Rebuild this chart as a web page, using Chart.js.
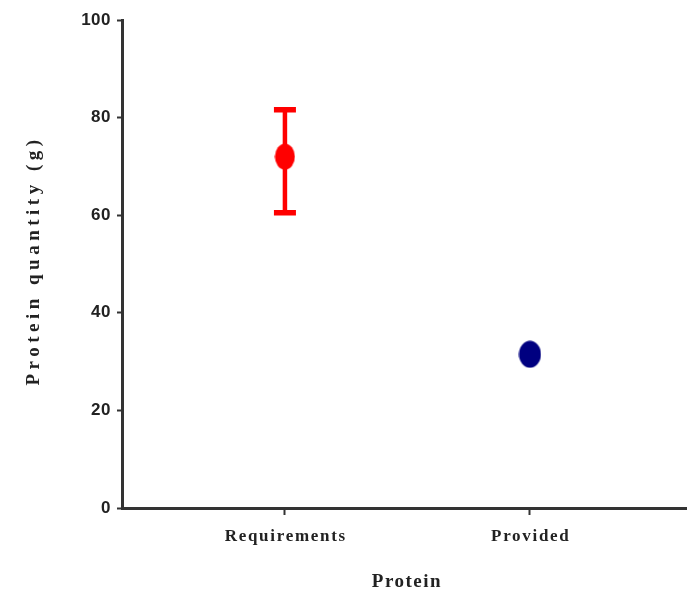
<!DOCTYPE html>
<html><head><meta charset="utf-8">
<script src="https://cdn.jsdelivr.net/npm/chart.js@4"></script>
<style>html,body{margin:0;padding:0;background:#fff}</style>
</head><body>
<canvas id="c" width="687" height="596"></canvas>
<script>
const categories = ['Requirements', 'Provided'];
const categoryPositions = [1, 2];
const means = [72, 31.5];
const errUpper = [81.6, null];
const errLower = [60.5, null];
const pointColors = ['#ff0000', '#000080'];
const yTicks = [0, 20, 40, 60, 80, 100];
const xTitle = 'Protein';
const yTitle = 'Protein quantity (g)';

function ellipseCanvas(color, w, h) {
  const c = document.createElement('canvas');
  c.width = w; c.height = h;
  const g = c.getContext('2d');
  g.fillStyle = color;
  g.beginPath();
  g.ellipse(w / 2, h / 2, w / 2 - 0.5, h / 2 - 0.5, 0, 0, Math.PI * 2);
  g.fill();
  return c;
}

const errorBars = {
  id: 'errorBars',
  beforeDatasetsDraw(chart) {
    const { ctx, scales: { x, y } } = chart;
    ctx.save();
    categoryPositions.forEach((pos, i) => {
      if (errUpper[i] == null) return;
      const px = x.getPixelForValue(pos);
      const yt = y.getPixelForValue(errUpper[i]);
      const yb = y.getPixelForValue(errLower[i]);
      ctx.strokeStyle = pointColors[i];
      ctx.lineWidth = 4.5;
      ctx.beginPath();
      ctx.moveTo(px, yt); ctx.lineTo(px, yb);
      ctx.stroke();
      ctx.lineWidth = 5.5;
      ctx.beginPath();
      ctx.moveTo(px - 11, yt); ctx.lineTo(px + 11, yt);
      ctx.moveTo(px - 11, yb); ctx.lineTo(px + 11, yb);
      ctx.stroke();
    });
    ctx.restore();
  }
};

const spacing = {
  id: 'spacing',
  beforeDraw(chart) {
    const ctx = chart.ctx;
    Object.values(chart.scales).forEach(s => {
      if (s._patched) return;
      s._patched = true;
      const isX = s.id === 'x';
      const ls = isX ? 1.7 : 0.5;
      const ts = isX ? 1.5 : 4.5;
      const dl = s.drawLabels, dt = s.drawTitle;
      s.drawLabels = function (a) {
        ctx.save(); ctx.letterSpacing = ls + 'px';
        if (isX) ctx.translate(ls / 2, 0);
        dl.call(this, a); ctx.restore();
      };
      s.drawTitle = function (a) {
        ctx.save(); ctx.letterSpacing = ts + 'px';
        if (isX) ctx.translate(2.5, 0); else ctx.translate(0, -3.5);
        dt.call(this, a); ctx.restore();
      };
    });
  }
};

const serif = '"Liberation Serif", "Times New Roman", serif';
const sans = '"Liberation Sans", Arial, sans-serif';

new Chart(document.getElementById('c'), {
  type: 'scatter',
  data: {
    datasets: [{
      data: categoryPositions.map((p, i) => ({ x: p, y: means[i] })),
      pointStyle: [ellipseCanvas(pointColors[0], 21, 27), ellipseCanvas(pointColors[1], 23, 28)],
      backgroundColor: pointColors,
      borderColor: pointColors,
      pointRadius: 12,
      pointHoverRadius: 12
    }]
  },
  options: {
    responsive: false,
    animation: false,
    events: [],
    layout: { autoPadding: false, padding: { top: 20, left: 0, right: 0, bottom: 0 } },
    plugins: { legend: { display: false }, tooltip: { enabled: false } },
    scales: {
      x: {
        type: 'linear',
        min: 0.335,
        max: 2.641,
        afterFit(s) { s.height = 88; },
        afterBuildTicks(s) { s.ticks = categoryPositions.map(v => ({ value: v })); },
        grid: { drawOnChartArea: false, drawTicks: true, tickLength: 7, color: '#333', tickWidth: 2 },
        border: { display: true, color: '#333', width: 3 },
        ticks: {
          padding: 11,
          color: '#222',
          font: { family: serif, weight: 'bold', size: 17 },
          maxRotation: 0,
          callback: v => categories[categoryPositions.indexOf(v)] ?? ''
        },
        title: {
          display: true, text: xTitle, color: '#222',
          font: { family: serif, weight: 'bold', size: 19 },
          padding: { top: 0, bottom: 3 }
        }
      },
      y: {
        min: 0,
        max: 100,
        afterFit(s) { s.width = 122; },
        afterBuildTicks(s) { s.ticks = yTicks.map(v => ({ value: v })); },
        grid: { drawOnChartArea: false, drawTicks: true, tickLength: 5, color: '#333', tickWidth: 2 },
        border: { display: true, color: '#333', width: 3 },
        ticks: {
          padding: 6,
          color: '#222',
          font: { family: sans, weight: 'bold', size: 17 }
        },
        title: {
          display: true, text: yTitle, color: '#222',
          font: { family: serif, weight: 'bold', size: 19 },
          padding: { top: 23, bottom: 0 }
        }
      }
    }
  },
  plugins: [errorBars, spacing]
});
</script>
</body></html>
